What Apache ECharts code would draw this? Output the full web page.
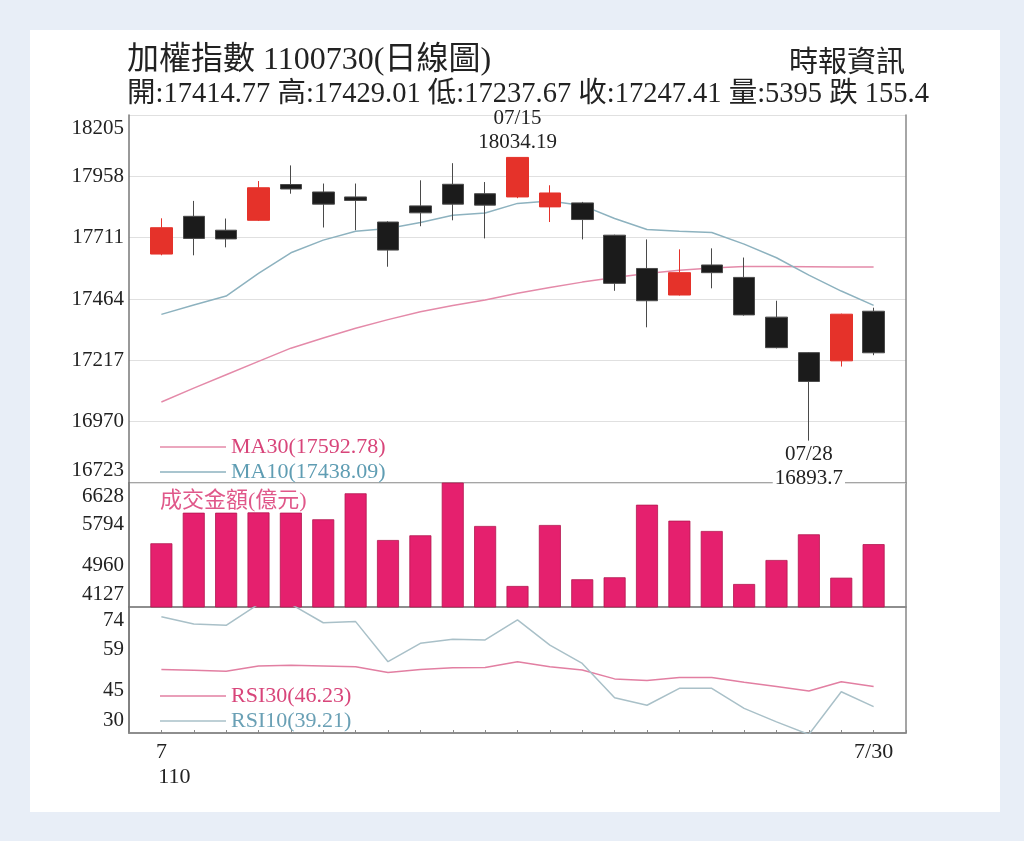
<!DOCTYPE html>
<html>
<head>
<meta charset="utf-8">
<script src="https://cdn.jsdelivr.net/npm/echarts/dist/echarts.min.js"></script>
<style>
  html, body { margin: 0; padding: 0; background: #e8eef7; }
  #paper { position: absolute; left: 30px; top: 30px; width: 970px; height: 782px; background: #fff; }
  #main { position: absolute; left: 0; top: 0; width: 1024px; height: 841px; }
</style>
</head>
<body>
<div id="paper"></div>
<div id="main"></div>
<script>
// 日期 (06/30 ~ 07/30)
const dates = ['06/30','07/01','07/02','07/05','07/06','07/07','07/08','07/09','07/12','07/13','07/14','07/15',
  '07/16','07/19','07/20','07/21','07/22','07/23','07/26','07/27','07/28','07/29','07/30'];

// K線
const opens  = [17645, 17797, 17741, 17781, 17925, 17895, 17875, 17774, 17839, 17926, 17888, 17875,
  17835, 17851, 17721, 17587, 17480, 17601, 17551, 17391, 17248, 17215, 17414.77];
const closes = [17751, 17708, 17706, 17912, 17907, 17846, 17861, 17661, 17811, 17846, 17842, 18034.19,
  17891, 17784, 17527, 17457, 17570, 17570, 17400, 17268, 17132, 17402.81, 17247.41];
const lows   = [17640, 17640, 17672, 17778, 17888, 17752, 17741, 17594, 17757, 17781, 17708, 17870,
  17774, 17704, 17497, 17350, 17478, 17507, 17397, 17265, 16893.7, 17192, 17237.67];
const highs  = [17789, 17859, 17788, 17939, 18002, 17929, 17929, 17777, 17942, 18011, 17935, 18034.19,
  17922, 17855, 17723, 17704, 17664, 17668, 17631, 17457, 17250, 17405, 17429.01];

// 均線
const ma10 = [17402, 17440, 17476, 17567, 17650, 17701, 17737, 17748, 17772, 17801, 17810, 17849,
  17859, 17841, 17788, 17744, 17737, 17732, 17685, 17630, 17560, 17496, 17438.09];
const ma30 = [17049, 17105, 17159, 17213, 17266, 17307, 17346, 17381, 17413, 17438, 17460, 17487,
  17510, 17532, 17551, 17567, 17580, 17589, 17595, 17595, 17594, 17593, 17592.78];

// 成交金額(億元)
const volume = [5412, 6029, 6029, 6035, 6030, 5896, 6420, 5478, 5573, 6640, 5761, 4551,
  5781, 4686, 4726, 6190, 5868, 5660, 4591, 5075, 5593, 4718, 5395];

// RSI
const rsi10 = [70.6, 68.1, 67.6, 75, 75, 68.5, 68.9, 54.9, 61.3, 62.7, 62.5, 69.5,
  60.7, 54.3, 42.3, 39.7, 45.6, 45.6, 38.6, 33.9, 29.5, 44.4, 39.21];
const rsi30 = [52.2, 51.9, 51.6, 53.4, 53.7, 53.4, 53.1, 51.1, 52.2, 52.8, 52.9, 54.9,
  53.1, 52.0, 48.9, 48.3, 49.4, 49.4, 47.7, 46.2, 44.7, 47.9, 46.23];

// 刻度
const priceTicks = [16723, 16970, 17217, 17464, 17711, 17958, 18205];
const volTicks = [4127, 4960, 5794, 6628];
const rsiTicks = [30, 45, 59, 74];
const xLabels = ['7', '110', '7/30'];

const FONT = "'Liberation Serif', 'Noto Sans CJK TC', serif";
const last = a => a[a.length - 1];

// 左右各留一個空位
const categories = [''].concat(dates, ['']);
const pad = a => ['-'].concat(a, ['-']);
const candles = [['-', '-', '-', '-']].concat(
  opens.map((o, i) => [o, closes[i], lows[i], highs[i]]), [['-', '-', '-', '-']]);

const n = dates.length;
const chg = (closes[n - 2] - closes[n - 1]);
const info = '開:' + opens[n - 1] + ' 高:' + highs[n - 1] + ' 低:' + lows[n - 1] + ' 收:' + closes[n - 1] +
  ' 量:' + volume[n - 1] + ' ' + (chg >= 0 ? '跌 ' : '漲 ') + Math.abs(chg).toFixed(1);

const hiIdx = highs.indexOf(Math.max.apply(null, highs));
const loIdx = lows.indexOf(Math.min.apply(null, lows));

const legendVal = {
  MA30: last(ma30).toFixed(2), MA10: last(ma10).toFixed(2),
  RSI30: last(rsi30).toFixed(2), RSI10: last(rsi10).toFixed(2)
};

// 上下兩端的刻度文字往內縮
function edgeLabel(ticks) {
  return function (v) {
    if (v === ticks[ticks.length - 1]) return '{t|' + v + '}';
    if (v === ticks[0]) return '{b|' + v + '}';
    return '{n|' + v + '}';
  };
}
const edgeRich = {
  t: { padding: [26, 0, 0, 0] },
  b: { padding: [0, 0, 26, 0] },
  n: {}
};
const yLabel = ticks => ({
  customValues: ticks,
  fontFamily: FONT, fontSize: 21, color: '#222', margin: 5,
  formatter: edgeLabel(ticks), rich: edgeRich
});

const legendBase = {
  left: 160, padding: 0, orient: 'vertical', icon: 'rect', itemWidth: 66, itemHeight: 1.5, itemGap: 1,
  selectedMode: false,
  textStyle: { fontFamily: FONT, fontSize: 22, lineHeight: 24 },
  formatter: name => name + '(' + legendVal[name] + ')'
};

const gridL = 129, gridR = 118;
const chart = echarts.init(document.getElementById('main'));

const option = {
  animation: false,
  backgroundColor: 'transparent',
  title: [
    { text: '加權指數 1100730(日線圖)', left: 127, top: 45, padding: 0,
      textStyle: { fontFamily: FONT, fontSize: 32, fontWeight: 'normal', color: '#222' } },
    { text: info, left: 127, top: 80, padding: 0,
      textStyle: { fontFamily: FONT, fontSize: 28.5, fontWeight: 'normal', color: '#222' } },
    { text: '時報資訊', right: 119, top: 50, padding: 0,
      textStyle: { fontFamily: FONT, fontSize: 29, fontWeight: 'normal', color: '#222' } },
    { text: '成交金額(億元)', left: 160, top: 490, padding: 0,
      textStyle: { fontFamily: FONT, fontSize: 22, fontWeight: 'normal', color: '#e0588a' } }
  ],
  legend: [
    Object.assign({}, legendBase, { top: 435,
      data: [{ name: 'MA30', textStyle: { color: '#d8457a' } }, { name: 'MA10', textStyle: { color: '#5f9db3' } }] }),
    Object.assign({}, legendBase, { top: 684,
      data: [{ name: 'RSI30', textStyle: { color: '#d8457a' } }, { name: 'RSI10', textStyle: { color: '#6aa0b5' } }] })
  ],
  grid: [
    { left: gridL, right: gridR, top: 115, height: 368 },
    { left: gridL, right: gridR, top: 483, height: 124, show: true, borderColor: '#888', borderWidth: 1.5 },
    { left: gridL, right: gridR, top: 607, height: 126, show: true, borderColor: '#888', borderWidth: 1.5 }
  ],
  xAxis: [
    { gridIndex: 0, type: 'category', data: categories, boundaryGap: false, show: false },
    { gridIndex: 1, type: 'category', data: categories, boundaryGap: false, show: false },
    { gridIndex: 2, type: 'category', data: categories, boundaryGap: false,
      axisLine: { lineStyle: { color: '#888', width: 1.5 } },
      axisTick: { inside: true, length: 3, interval: 0, lineStyle: { color: '#888' } },
      axisLabel: {
        interval: i => i === 1 || i === categories.length - 2,
        fontFamily: FONT, fontSize: 22, color: '#222', margin: 7, lineHeight: 25,
        formatter: (v, i) => i === 1 ? '{m|' + xLabels[0] + '}\n{y|' + xLabels[1] + '}' : xLabels[2],
        rich: { m: {}, y: { padding: [0, 0, 0, 26] } }
      } }
  ],
  yAxis: [
    { gridIndex: 0, type: 'value', min: priceTicks[0], max: last(priceTicks), position: 'left',
      axisLine: { show: true, lineStyle: { color: '#777', width: 1.5 } },
      axisTick: { show: false, customValues: priceTicks },
      axisLabel: yLabel(priceTicks),
      splitLine: { show: true, lineStyle: { color: '#e0e0e0', width: 1.2 } } },
    { gridIndex: 0, type: 'value', min: priceTicks[0], max: last(priceTicks), position: 'right',
      axisLine: { show: true, lineStyle: { color: '#888', width: 1.5 } },
      axisTick: { show: false }, axisLabel: { show: false }, splitLine: { show: false } },
    { gridIndex: 1, type: 'value', min: volTicks[0], max: last(volTicks),
      axisLine: { show: true, lineStyle: { color: '#777', width: 1.5 } },
      axisTick: { show: false, customValues: volTicks },
      axisLabel: yLabel(volTicks), splitLine: { show: false } },
    { gridIndex: 2, type: 'value', min: rsiTicks[0], max: last(rsiTicks),
      axisLine: { show: true, lineStyle: { color: '#777', width: 1.5 } },
      axisTick: { show: false, customValues: rsiTicks },
      axisLabel: yLabel(rsiTicks), splitLine: { show: false } }
  ],
  series: [
    { name: 'K', type: 'candlestick', xAxisIndex: 0, yAxisIndex: 0, data: candles, barWidth: 22,
      itemStyle: { color: '#e5322a', color0: '#1b1b1b', borderColor: '#e5322a', borderColor0: '#4a4a4a', borderWidth: 1 },
      markPoint: {
        symbol: 'circle', symbolSize: 0,
        data: [
          { type: 'max', valueDim: 'highest',
            label: { position: 'top', distance: 3,
              formatter: p => dates[hiIdx] + '\n' + p.value } },
          { type: 'min', valueDim: 'lowest',
            label: { position: 'bottom', distance: 2,
              formatter: p => '{a|' + dates[loIdx] + '}\n{b|' + p.value + '}',
              rich: { a: {}, b: { backgroundColor: '#fff', padding: [0, 2] } } } }
        ],
        label: { fontFamily: FONT, fontSize: 21, lineHeight: 24, color: '#222' }
      } },
    { name: 'MA30', type: 'line', xAxisIndex: 0, yAxisIndex: 0, data: pad(ma30), symbol: 'none',
      color: '#e48aa9', lineStyle: { width: 1.5, color: '#e48aa9' }, z: 1 },
    { name: 'MA10', type: 'line', xAxisIndex: 0, yAxisIndex: 0, data: pad(ma10), symbol: 'none',
      color: '#8db2bf', lineStyle: { width: 1.5, color: '#8db2bf' }, z: 1 },
    { name: '成交金額', type: 'bar', xAxisIndex: 1, yAxisIndex: 2, data: pad(volume), barWidth: 22,
      itemStyle: { color: '#e5206e', borderColor: '#b3174f', borderWidth: 0.8 } },
    { name: 'RSI30', type: 'line', xAxisIndex: 2, yAxisIndex: 3, data: pad(rsi30), symbol: 'none',
      color: '#e27fa2', lineStyle: { width: 1.5, color: '#e27fa2' } },
    { name: 'RSI10', type: 'line', xAxisIndex: 2, yAxisIndex: 3, data: pad(rsi10), symbol: 'none',
      color: '#a9c0c8', lineStyle: { width: 1.5, color: '#a9c0c8' } }
  ]
};

chart.setOption(option);
</script>
</body>
</html>
